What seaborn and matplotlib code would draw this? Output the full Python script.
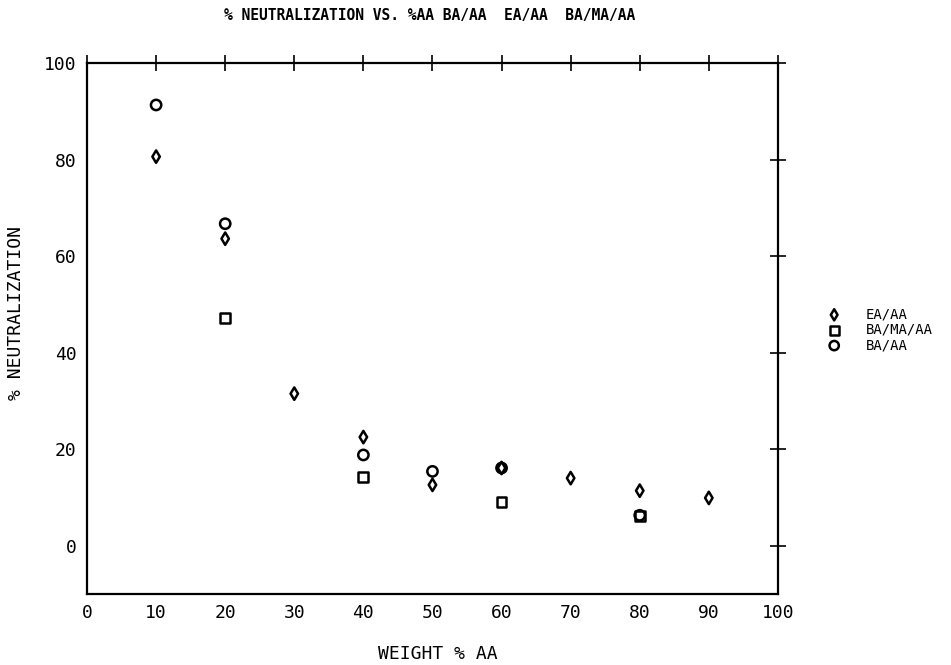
import pandas as pd
import seaborn as sns
import matplotlib.pyplot as plt

# valores
x_ea = [10, 20, 30, 40, 50, 60, 70, 80, 90]
y_ea = [80.6, 63.6, 31.5, 22.5, 12.6, 16.1, 14.0, 11.4, 9.9]

x_bma = [20, 40, 60, 80]
y_bma = [47.1, 14.2, 9.0, 6.1]

x_ba = [10, 20, 40, 50, 60, 80]
y_ba = [91.3, 66.7, 18.8, 15.4, 16.1, 6.3]

series_names = ["EA/AA", "BA/MA/AA", "BA/AA"]

df = pd.concat([
    pd.DataFrame({"x": x_ea, "y": y_ea, "serie": series_names[0]}),
    pd.DataFrame({"x": x_bma, "y": y_bma, "serie": series_names[1]}),
    pd.DataFrame({"x": x_ba, "y": y_ba, "serie": series_names[2]}),
])

sns.set_style("white")
plt.rcParams['font.family'] = ['DejaVu Sans Mono']
plt.rcParams['text.color'] = 'black'
plt.rcParams['axes.labelcolor'] = 'black'

fig = plt.figure(figsize=(9.51, 6.65), dpi=100)
ax = fig.add_axes([0.0915, 0.1068, 0.7265, 0.7985])

markers = {"EA/AA": "d", "BA/MA/AA": "s", "BA/AA": "o"}
sizes = {"EA/AA": 40, "BA/MA/AA": 50, "BA/AA": 55}
for name in series_names:
    sns.scatterplot(data=df[df["serie"] == name], x="x", y="y", marker=markers[name],
                    s=sizes[name], facecolor="none", edgecolor="black", linewidth=1.8,
                    ax=ax, label=name)

ax.set_xlim(0, 100)
ax.set_ylim(-10, 100)
ax.set_xticks(range(0, 101, 10))
ax.set_yticks(range(0, 101, 20))
ax.tick_params(direction="inout", length=12, width=1.2, top=True, right=True,
               labelsize=13, colors="black", pad=1.5)
for s in ax.spines.values():
    s.set_linewidth(1.6)
    s.set_color("black")

ax.set_xlabel("WEIGHT % AA", fontsize=13, va="top")
ax.xaxis.set_label_coords(0.508, -0.097)
ax.set_ylabel("% NEUTRALIZATION", fontsize=13)
ax.yaxis.set_label_coords(-0.09, 0.53)

# titulo
fig.text(0.452, 0.976, "% NEUTRALIZATION VS. %AA BA/AA  EA/AA  BA/MA/AA",
         fontsize=10.5, fontweight="bold", ha="center", va="center")

ax.legend(loc="center left", bbox_to_anchor=(0.8633, 0.504), bbox_transform=fig.transFigure,
          frameon=False, fontsize=10, borderpad=0, handlelength=0.9, handletextpad=1.8,
          labelspacing=0.1, markerscale=0.9)

plt.savefig("out.png", dpi=100)
